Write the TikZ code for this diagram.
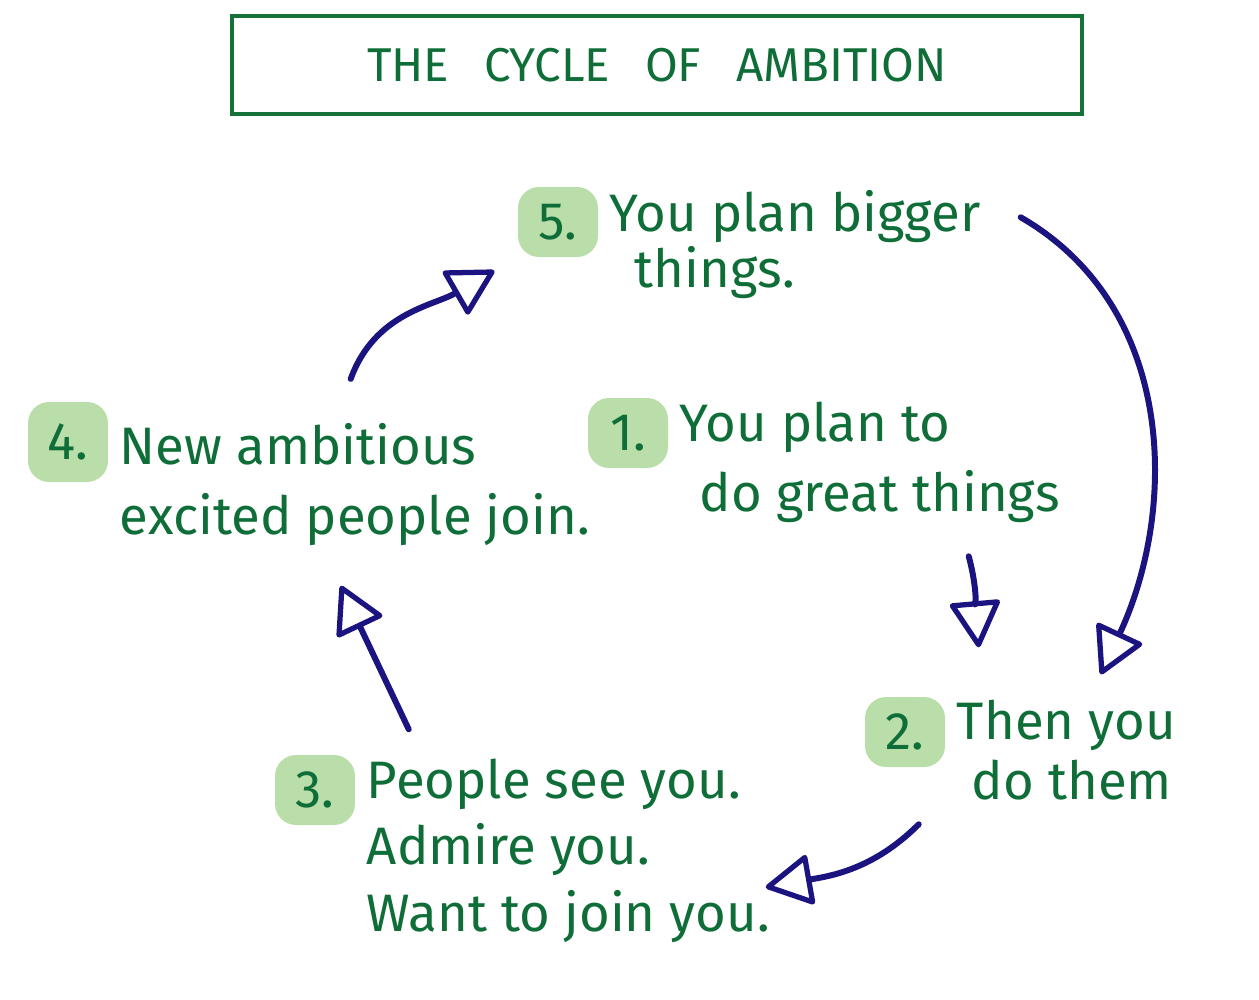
\documentclass[tikz,border=0pt]{standalone}
\usepackage{fontspec}
\setmainfont{Fira Sans}
\usetikzlibrary{arrows.meta,positioning,calc}
\definecolor{ink}{HTML}{0F6E38}
\definecolor{marker}{HTML}{B9DEAA}
\definecolor{pen}{HTML}{1B1480}
\definecolor{frame}{HTML}{167238}

\begin{document}
\begin{tikzpicture}[x=0.1mm, y=-0.1mm,
    heading/.style={draw=frame, line width=1.3pt, minimum width=8.5cm, minimum height=9.8mm,
                    text=ink, font=\fontsize{13.5}{16}\selectfont},
    num/.style={fill=marker, rounded corners=6pt, text=ink, inner sep=2pt,
                minimum width=8mm, minimum height=7mm, font=\fontsize{15}{20}\selectfont},
    item/.style={text=ink, align=left, inner sep=1pt, font=\fontsize{15}{20}\selectfont},
    arr/.style={pen, line width=1.7pt, line cap=round, line join=round,
                -{Triangle[open, length=14pt, width=15pt, line width=1.5pt, round]}}
  ]
  \useasboundingbox (0,0) rectangle (1259,1000);

  % Title
  \node[heading] (title) at (657,65) {THE\hspace{3.5mm}CYCLE\hspace{3.5mm}OF\hspace{3.5mm}AMBITION};

  % Steps
  \node[num] (n5) at (558,222) {5.};
  \node[item, right=2pt of n5.north east, anchor=north west, font=\fontsize{15}{16}\selectfont] (t5) {You plan bigger\\\hspace*{2.5mm}things.};
  \node[num] (n1) at (628,433) {1.};
  \node[item, right=2pt of n1.north east, anchor=north west] (t1) {You plan to\\\hspace*{2mm}do great things};
  \node[num] (n2) at (905,732) {2.};
  \node[item, right=2pt of n2.north east, anchor=north west, font=\fontsize{15}{17}\selectfont] (t2) {Then you\\\hspace*{1.5mm}do them};
  \node[num] (n3) at (315,790) {3.};
  \node[item, right=2pt of n3.north east, anchor=north west, font=\fontsize{15}{19}\selectfont] (t3) {People see you.\\Admire you.\\Want to join you.};
  \node[num, minimum height=8mm] (n4) at (68,442) {4.};
  \node[item, right=2pt of n4.north east, anchor=north west, yshift=-5pt] (t4) {New ambitious\\excited people join.};

  % Arrows
  \draw[arr] ($(t1.north west)+(293,159)$) to[out=-75, in=95] ($(t2.north west)+(26,-49)$);
  \draw[arr] ($(t5.north west)+(415,31)$) to[out=-30, in=65] ($(t2.north west)+(148,-22)$);
  \draw[arr] ($(t2.north west)+(-34,128)$) to[out=-135, in=10] ($(t3.north west)+(403,133)$);
  \draw[arr] ($(t3.north west)+(46,-25)$) -- ($(t4.north west)+(225,167)$);
  \draw[arr] ($(t4.north west)+(235,-40)$) to[out=70, in=210] ($(n5.south west)+(-23,13)$);
\end{tikzpicture}
\end{document}
